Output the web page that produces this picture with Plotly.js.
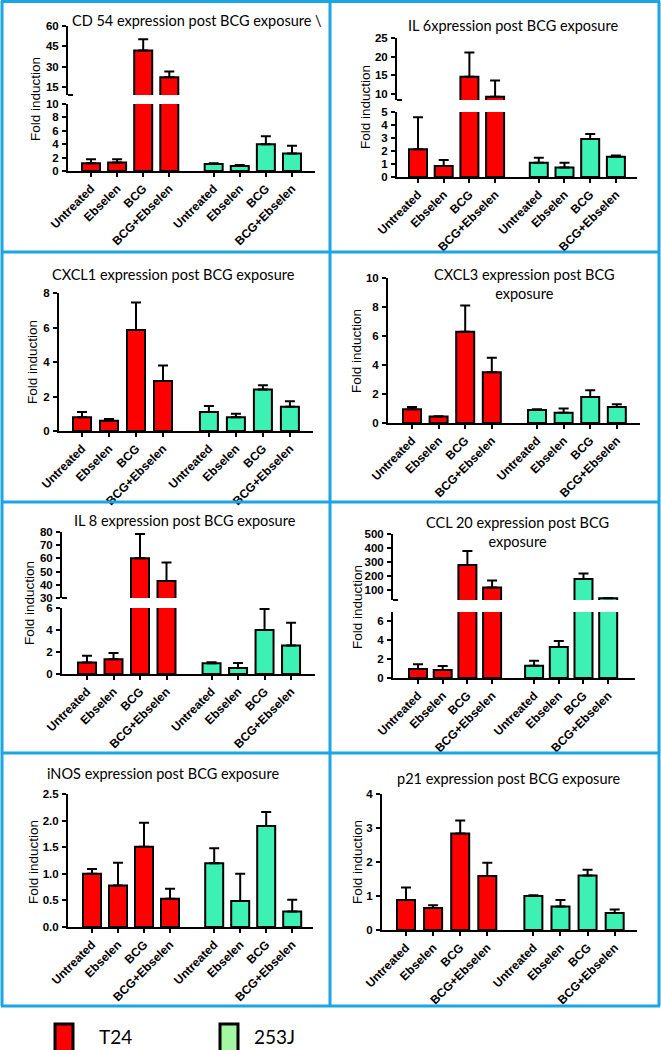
<!DOCTYPE html>
<html><head><meta charset="utf-8">
<script src="https://cdn.plot.ly/plotly-3.0.1.min.js"></script>
<style>html,body{margin:0;padding:0;background:#fff}#chart{width:661px;height:1050px}</style>
</head><body><div id="chart"></div>
<script>
// ---------------- DATA ----------------
const conditions = ["Untreated", "Ebselen", "BCG", "BCG+Ebselen"];
const cellLines = ["T24", "253J"];

const panelTitles = [
  "CD 54 expression post BCG exposure \\",
  "IL 6xpression post BCG exposure",
  "CXCL1 expression post BCG exposure",
  "CXCL3 expression post BCG<br>exposure",
  "IL 8 expression post BCG exposure",
  "CCL 20 expression post BCG<br>exposure",
  "iNOS expression post BCG exposure",
  "p21 expression post BCG exposure"
];
const yLabel = "Fold induction";

// mean fold induction and upper error per condition
const cd54_T24 = [1.15, 1.25, 41.8, 22.2];
const cd54_T24_err = [0.6, 0.5, 8.4, 4.1];
const cd54_253J = [1.05, 0.75, 4.0, 2.6];
const cd54_253J_err = [0.1, 0.15, 1.2, 1.15];

const il6_T24 = [2.13, 0.85, 14.6, 9.3];
const il6_T24_err = [2.47, 0.45, 6.5, 4.3];
const il6_253J = [1.09, 0.73, 2.93, 1.55];
const il6_253J_err = [0.39, 0.36, 0.37, 0.1];

const cxcl1_T24 = [0.8, 0.6, 5.85, 2.9];
const cxcl1_T24_err = [0.3, 0.1, 1.6, 0.9];
const cxcl1_253J = [1.1, 0.8, 2.4, 1.4];
const cxcl1_253J_err = [0.35, 0.2, 0.25, 0.32];

const cxcl3_T24 = [0.95, 0.45, 6.3, 3.5];
const cxcl3_T24_err = [0.15, 0.02, 1.8, 1.0];
const cxcl3_253J = [0.9, 0.7, 1.8, 1.1];
const cxcl3_253J_err = [0.05, 0.3, 0.45, 0.2];

const il8_T24 = [1.05, 1.35, 60.1, 42.9];
const il8_T24_err = [0.6, 0.55, 18.4, 13.9];
const il8_253J = [0.97, 0.55, 4.0, 2.6];
const il8_253J_err = [0.1, 0.45, 1.9, 2.05];

const ccl20_T24 = [0.95, 0.85, 278, 119];
const ccl20_T24_err = [0.52, 0.41, 100, 50];
const ccl20_253J = [1.3, 3.3, 178, 41];
const ccl20_253J_err = [0.52, 0.63, 41, 3];

const inos_T24 = [1.0, 0.78, 1.51, 0.53];
const inos_T24_err = [0.09, 0.43, 0.45, 0.19];
const inos_253J = [1.2, 0.49, 1.9, 0.29];
const inos_253J_err = [0.28, 0.51, 0.26, 0.22];

const p21_T24 = [0.88, 0.65, 2.84, 1.59];
const p21_T24_err = [0.37, 0.08, 0.38, 0.39];
const p21_253J = [1.0, 0.69, 1.6, 0.5];
const p21_253J_err = [0.02, 0.19, 0.17, 0.1];

// ---------------- LAYOUT CONFIG (pixels) ----------------
const W = 661, H = 1050;
const GROUP_OFFSET = 4.7;
const BAR_PX = 18;
const RED = "#FF0000", GREEN = "#3DF0B4";
const BLUE = "#1BA6E1";
const panels = [
  {t: cd54_T24, te: cd54_T24_err, g: cd54_253J, ge: cd54_253J_err,
   x0: 68, x1: 315, p0: 91, s: 26.1,
   low: {top: 104, bot: 171, range: [0, 10], tickvals: [0, 2, 4, 6, 8, 10]},
   up: {top: 26, bot: 95, range: [9, 60], tickvals: [15, 30, 45, 60]},
   title: [197, 20], ylab: [35, 99]},
  {t: il6_T24, te: il6_T24_err, g: il6_253J, ge: il6_253J_err,
   x0: 397, x1: 637, p0: 418, s: 25.7,
   low: {top: 112, bot: 177, range: [0, 5], tickvals: [0, 1, 2, 3, 4, 5]},
   up: {top: 38, bot: 100, range: [8.4, 25], tickvals: [10, 15, 20, 25]},
   title: [513, 25], ylab: [365, 107]},
  {t: cxcl1_T24, te: cxcl1_T24_err, g: cxcl1_253J, ge: cxcl1_253J_err,
   x0: 59, x1: 313, p0: 82, s: 27.0,
   low: {top: 293, bot: 431, range: [0, 8], tickvals: [0, 2, 4, 6, 8]},
   title: [173, 275], ylab: [32, 362]},
  {t: cxcl3_T24, te: cxcl3_T24_err, g: cxcl3_253J, ge: cxcl3_253J_err,
   x0: 388, x1: 640, p0: 412, s: 26.6,
   low: {top: 278, bot: 423, range: [0, 10], tickvals: [0, 2, 4, 6, 8, 10]},
   title: [524, 284], ylab: [356, 351]},
  {t: il8_T24, te: il8_T24_err, g: il8_253J, ge: il8_253J_err,
   x0: 62, x1: 315, p0: 87, s: 26.5,
   low: {top: 608, bot: 674, range: [0, 6], tickvals: [0, 2, 4, 6]},
   up: {top: 532, bot: 598, range: [30, 80], tickvals: [30, 40, 50, 60, 70, 80]},
   title: [185, 520], ylab: [29, 603]},
  {t: ccl20_T24, te: ccl20_T24_err, g: ccl20_253J, ge: ccl20_253J_err,
   x0: 393, x1: 635, p0: 418, s: 24.7,
   low: {top: 612, bot: 678, range: [0, 7], tickvals: [0, 2, 4, 6]},
   up: {top: 534, bot: 600, range: [29, 500], tickvals: [100, 200, 300, 400, 500]},
   title: [517, 532], ylab: [357, 607]},
  {t: inos_T24, te: inos_T24_err, g: inos_253J, ge: inos_253J_err,
   x0: 68, x1: 313, p0: 92, s: 26.0,
   low: {top: 794, bot: 927, range: [0, 2.5], tickvals: [0, 0.5, 1, 1.5, 2, 2.5], fmt: ".1f"},
   title: [163, 773], ylab: [33, 862]},
  {t: p21_T24, te: p21_T24_err, g: p21_253J, ge: p21_253J_err,
   x0: 382, x1: 637, p0: 406, s: 27.1,
   low: {top: 794, bot: 930, range: [0, 4], tickvals: [0, 1, 2, 3, 4]},
   title: [508, 778], ylab: [357, 862]}
];

const px = x => x / W;
const py = y => 1 - y / H;
const XTICKFONT = {family: "Liberation Sans, Arial, sans-serif", size: 12, color: "#000", weight: "bold"};
const YTICKFONT = {family: "Liberation Sans, Arial, sans-serif", size: 11.5, color: "#000", weight: "bold"};
const TITLEFONT = {family: "Lato, Open Sans, sans-serif", size: 14.5, color: "#000"};
const LABELFONT = {family: "Liberation Sans, Arial, sans-serif", size: 13.5, color: "#000"};

const data = [];
const layout = {
  width: W, height: H, margin: {l: 0, r: 0, t: 0, b: 0},
  paper_bgcolor: "#fff", plot_bgcolor: "rgba(0,0,0,0)",
  showlegend: false, barmode: "overlay",
  annotations: [], shapes: []
};

let yCount = 0;
panels.forEach((p, k) => {
  const xi = k + 1;
  const xName = "x" + (xi === 1 ? "" : xi);
  const xKey = "xaxis" + (xi === 1 ? "" : xi);
  const tPos = conditions.map((c, i) => i);
  const gPos = conditions.map((c, i) => i + GROUP_OFFSET);
  const barW = BAR_PX / p.s;

  const segs = [p.low];
  if (p.up) segs.push(p.up);
  const yNames = [];
  segs.forEach((seg) => {
    yCount++;
    const yName = "y" + (yCount === 1 ? "" : yCount);
    const yKey = "yaxis" + (yCount === 1 ? "" : yCount);
    yNames.push(yName);
    layout[yKey] = {
      domain: [py(seg.bot), py(seg.top)], range: seg.range, anchor: xName,
      showline: true, linewidth: 2, linecolor: "#000", mirror: false,
      ticks: "outside", ticklen: 4, tickwidth: 2, tickcolor: "#000",
      tickvals: seg.tickvals, tickformat: seg.fmt || "", tickfont: YTICKFONT,
      showgrid: false, zeroline: false, fixedrange: true, ticklabelstandoff: 1
    };
    const mk = (vals, errs, pos, color, name) => ({
      type: "bar", x: pos, y: vals, width: barW, name: name,
      xaxis: xName, yaxis: yName,
      marker: {color: color, line: {color: "#000", width: 2}},
      error_y: {type: "data", symmetric: false, array: errs, arrayminus: errs.map(() => 0),
        color: "#000", thickness: 2, width: 5},
      hoverinfo: "x+y"
    });
    data.push(mk(p.t, p.te, tPos, RED, cellLines[0]));
    data.push(mk(p.g, p.ge, gPos, GREEN, cellLines[1]));
  });

  layout[xKey] = {
    domain: [px(p.x0), px(p.x1)],
    range: [(p.x0 - p.p0) / p.s, (p.x1 - p.p0) / p.s],
    anchor: yNames[0],
    showline: true, linewidth: 2, linecolor: "#000",
    ticks: "outside", ticklen: 4, tickwidth: 2, tickcolor: "#000",
    tickvals: tPos.concat(gPos), ticktext: conditions.concat(conditions),
    tickangle: -45, tickfont: XTICKFONT, ticklabelstandoff: 0,
    showgrid: false, zeroline: false, fixedrange: true
  };

  // axis break stubs
  if (p.up) {
    layout.shapes.push({type: "line", xref: "paper", yref: "paper",
      x0: px(p.x0), x1: px(p.x0 + 5), y0: py(p.up.bot), y1: py(p.up.bot),
      line: {color: "#000", width: 2}});
  }

  layout.annotations.push({
    text: panelTitles[k], xref: "paper", yref: "paper",
    x: px(p.title[0]), y: py(p.title[1]), xanchor: "center", yanchor: "middle",
    showarrow: false, font: TITLEFONT, align: "center"
  });
  layout.annotations.push({
    text: yLabel, xref: "paper", yref: "paper", textangle: -90,
    x: px(p.ylab[0]), y: py(p.ylab[1]), xanchor: "center", yanchor: "middle",
    showarrow: false, font: LABELFONT
  });
});

// panel borders
[2, 330, 659].forEach(x => layout.shapes.push({type: "line", xref: "paper", yref: "paper",
  x0: px(x), x1: px(x), y0: py(1), y1: py(1006), line: {color: BLUE, width: 3}}));
[1.5, 252, 502, 753, 1006].forEach(y => layout.shapes.push({type: "line", xref: "paper", yref: "paper",
  x0: px(1), x1: px(660), y0: py(y), y1: py(y), line: {color: BLUE, width: 3}}));

// legend
const legendItems = [
  {name: cellLines[0], color: "#FF0000", box: 55, text: 97},
  {name: cellLines[1], color: "#A3F7A3", box: 220, text: 252}
];
legendItems.forEach(it => {
  layout.shapes.push({type: "rect", xref: "paper", yref: "paper",
    x0: px(it.box), x1: px(it.box + 18), y0: py(1024), y1: py(1052),
    fillcolor: it.color, line: {color: "#000", width: 3}});
  layout.annotations.push({text: it.name, xref: "paper", yref: "paper",
    x: px(it.text), y: py(1036), xanchor: "left", yanchor: "middle", showarrow: false,
    font: {family: "Lato, Open Sans, sans-serif", size: 19, color: "#000"}});
});

Plotly.newPlot("chart", data, layout, {staticPlot: true, displayModeBar: false});
</script></body></html>
